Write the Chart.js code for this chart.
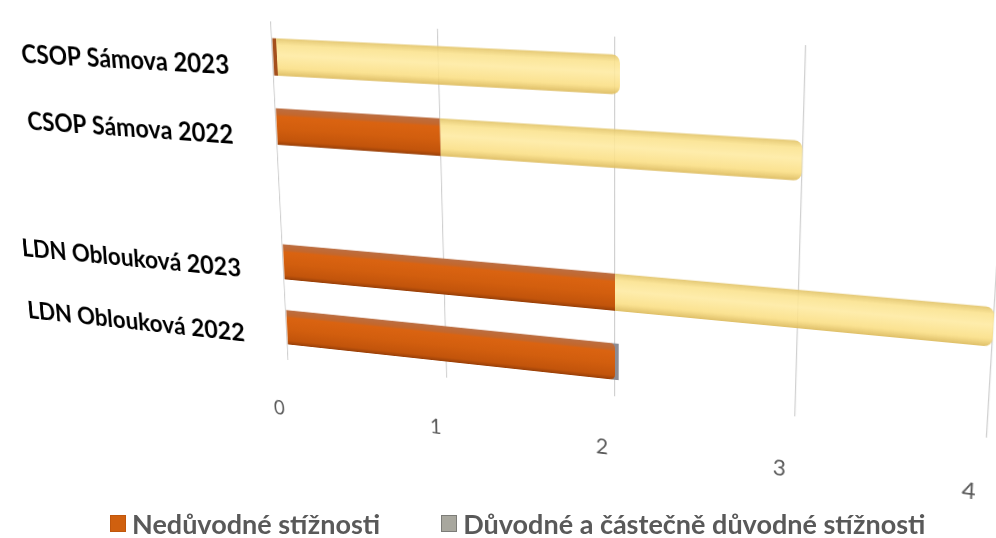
<!DOCTYPE html>
<html lang="cs">
<head>
<meta charset="utf-8">
<title>Stížnosti</title>
<script src="https://cdn.jsdelivr.net/npm/chart.js@4/dist/chart.umd.min.js"></script>
<style>
  html, body { margin: 0; padding: 0; background: #ffffff; width: 996px; height: 538px; overflow: hidden; }
  #stage { position: absolute; left: -200px; top: 0; width: 1196px; height: 500px; }
  /* tilted view of the plot plane */
  #stage canvas { transform: perspective(1650px) rotateZ(4.5deg) rotateY(-17deg) rotateX(-15deg); }
  #legend { position: absolute; left: 110px; top: 508px; height: 30px; display: flex; align-items: center;
            font: bold 27px Lato, "Open Sans", sans-serif; color: #595959; white-space: nowrap; }
  #legend .item { display: flex; align-items: center; margin-right: 61px; }
  #legend .swatch { width: 16px; height: 17px; margin-right: 6px; box-sizing: border-box; }
</style>
</head>
<body>
<div id="stage"><canvas id="chart"></canvas></div>
<div id="legend"></div>
<script>
// facilities and years; the empty entry keeps the gap between the two facilities
const categories = ['CSOP Sámova 2023', 'CSOP Sámova 2022', '', 'LDN Oblouková 2023', 'LDN Oblouková 2022'];
const seriesNames = ['Nedůvodné stížnosti', 'Důvodné a částečně důvodné stížnosti'];
const unfoundedCounts = [0, 1, null, 2, 2];
const foundedCounts = [2, 2, null, 2, 0];
const valueTicks = [0, 1, 2, 3, 4];

// appearance
const BAR_FRACTION = 0.53;
const ORANGE_SHADES = [[0, '#bb6e42'], [0.16, '#c4672c'], [0.22, '#da6311'], [0.55, '#d25e0e'], [0.88, '#c2540b'], [1, '#983f08']];
const YELLOW_SHADES = [[0, 'rgba(226,196,106,0.92)'], [0.18, 'rgba(250,226,140,0.88)'], [0.45, 'rgba(254,234,160,0.88)'],
                       [0.8, 'rgba(250,222,130,0.88)'], [1, 'rgba(220,186,92,0.92)']];
const ZERO_CAP = ['#a4501c', '#8c8c94'];
const LEGEND_SWATCHES = [{ fill: '#d0600f', border: '#c0560c' }, { fill: '#a8a79e', border: '#7c7c78' }];

// vertical shading across each bar, so the bars read as rounded rods
function shadedFill(shades, zeroColor) {
  return (ctx) => {
    if (ctx.type !== 'data') return shades[2][1];
    if (ctx.raw === 0) return zeroColor;
    const chart = ctx.chart;
    const ys = chart.scales && chart.scales.y;
    if (!ys || !ys.height) return shades[2][1];
    const yc = ys.getPixelForValue(ctx.dataIndex);
    const half = ys.height / categories.length * BAR_FRACTION / 2;
    const g = chart.ctx.createLinearGradient(0, yc - half, 0, yc + half);
    shades.forEach(([stop, color]) => g.addColorStop(stop, color));
    return g;
  };
}

// keeps the perspective centred on the middle of the plot area
const viewOrigin = {
  id: 'viewOrigin',
  afterLayout(chart) {
    const a = chart.chartArea;
    chart.canvas.style.transformOrigin = ((a.left + a.right) / 2) + 'px ' + ((a.top + a.bottom) / 2) + 'px';
  }
};

// flat legend below the tilted plot
const htmlLegend = {
  id: 'htmlLegend',
  afterUpdate(chart) {
    const box = document.getElementById('legend');
    box.innerHTML = '';
    chart.data.datasets.forEach((ds, i) => {
      const item = document.createElement('div');
      item.className = 'item';
      const sw = document.createElement('span');
      sw.className = 'swatch';
      sw.style.background = LEGEND_SWATCHES[i].fill;
      sw.style.border = '1px solid ' + LEGEND_SWATCHES[i].border;
      const tx = document.createElement('span');
      tx.textContent = ds.label;
      item.appendChild(sw);
      item.appendChild(tx);
      box.appendChild(item);
    });
  }
};

new Chart(document.getElementById('chart'), {
  type: 'bar',
  data: {
    labels: categories,
    datasets: [
      { label: seriesNames[0], data: unfoundedCounts, backgroundColor: shadedFill(ORANGE_SHADES, ZERO_CAP[0]),
        borderWidth: 0, borderRadius: 5, borderSkipped: 'start', minBarLength: 5 },
      { label: seriesNames[1], data: foundedCounts, backgroundColor: shadedFill(YELLOW_SHADES, ZERO_CAP[1]),
        borderWidth: 0, borderRadius: 8, borderSkipped: 'start', minBarLength: 8 }
    ]
  },
  options: {
    indexAxis: 'y',
    responsive: true,
    maintainAspectRatio: false,
    animation: false,
    events: [],
    layout: { padding: { top: 36, right: 6, left: 0, bottom: 0 } },
    datasets: { bar: { barPercentage: BAR_FRACTION, categoryPercentage: 1 } },
    plugins: { legend: { display: false }, tooltip: { enabled: false } },
    scales: {
      x: {
        type: 'linear', stacked: true, min: valueTicks[0], max: valueTicks[valueTicks.length - 1],
        afterBuildTicks: (s) => { s.ticks = valueTicks.map(v => ({ value: v })); },
        afterFit: (s) => { s.height = 93.5; s.paddingLeft = 0; s.paddingRight = 0; },
        ticks: { padding: 44, labelOffset: -14, color: '#595959', font: { family: 'Lato', size: 23 } },
        grid: { color: '#d0d0d0', lineWidth: 1.2, drawTicks: false },
        border: { display: false }
      },
      y: {
        type: 'category', stacked: true,
        afterFit: (s) => { s.width = 440; s.paddingTop = 0; s.paddingBottom = 0; },
        ticks: { padding: 44, labelOffset: 12, color: '#000000', font: { family: 'Lato', weight: 'bold', size: 29 } },
        grid: { display: false },
        border: { display: false }
      }
    }
  },
  plugins: [viewOrigin, htmlLegend]
});
</script>
</body>
</html>
